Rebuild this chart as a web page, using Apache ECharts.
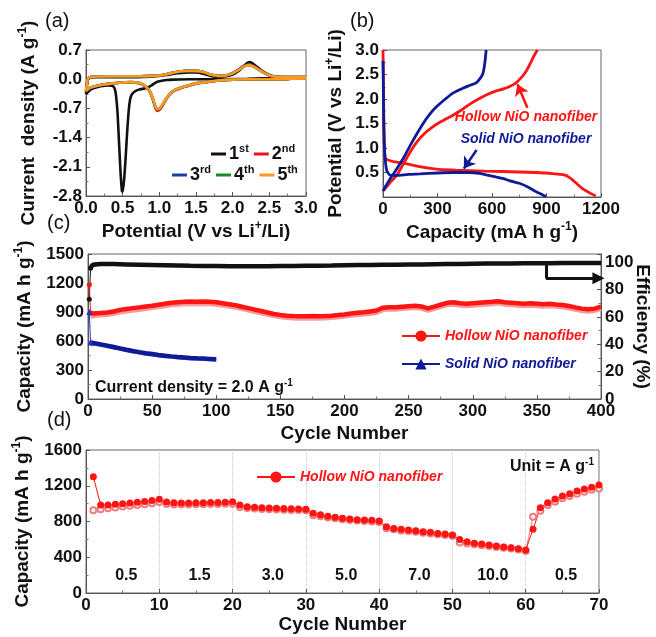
<!DOCTYPE html>
<html><head><meta charset="utf-8">
<script src="https://cdn.jsdelivr.net/npm/echarts@6/dist/echarts.min.js"></script>
<style>html,body{margin:0;padding:0;background:#fff}#c{width:656px;height:637px}</style>
</head><body><div id="c"></div>
<script>
// ---------- (a) CV curves ----------
const cvV1 = [3.0,2.6,2.2,1.8,1.4,1.2,1.1,1.0,0.95,0.9,0.85,0.8,0.72,0.66,0.62,0.6,0.58,0.56,0.54,0.52,0.5,0.49,0.47,0.45,0.43,0.41,0.39,0.36,0.3,0.2,0.1,0.05,0.0,
  0.01,0.02,0.04,0.1,0.4,0.7,0.9,1.0,1.1,1.2,1.3,1.4,1.5,1.6,1.7,1.8,1.9,2.0,2.1,2.15,2.2,2.24,2.3,2.4,2.5,2.6,2.8,3.0];
const cvI1 = [0.04,0.03,0.01,0.0,0.0,-0.01,-0.02,-0.05,-0.08,-0.14,-0.19,-0.22,-0.25,-0.3,-0.38,-0.5,-0.8,-1.3,-1.9,-2.4,-2.7,-2.68,-2.2,-1.5,-0.8,-0.4,-0.22,-0.16,-0.15,-0.17,-0.22,-0.27,-0.35,
  -0.2,-0.05,0.03,0.05,0.05,0.05,0.06,0.08,0.1,0.13,0.15,0.16,0.16,0.13,0.08,0.06,0.07,0.11,0.22,0.31,0.39,0.41,0.34,0.2,0.1,0.06,0.04,0.04];
const cvV = [3.0,2.8,2.6,2.4,2.2,2.0,1.8,1.6,1.5,1.4,1.3,1.2,1.13,1.08,1.04,1.0,0.97,0.94,0.91,0.88,0.85,0.8,0.73,0.6,0.5,0.37,0.2,0.1,0.05,0.0,
  0.01,0.02,0.04,0.1,0.4,0.7,0.9,1.0,1.1,1.2,1.3,1.4,1.5,1.6,1.7,1.8,1.9,2.0,2.1,2.15,2.22,2.3,2.4,2.5,2.6,2.8,3.0];
const cvI2 = [0.02,0.01,0.0,0.0,0.0,-0.01,-0.03,-0.08,-0.11,-0.16,-0.21,-0.28,-0.39,-0.52,-0.65,-0.74,-0.76,-0.66,-0.48,-0.34,-0.25,-0.16,-0.1,-0.08,-0.08,-0.1,-0.14,-0.18,-0.22,-0.29,
  -0.15,-0.02,0.04,0.06,0.07,0.07,0.08,0.09,0.12,0.16,0.19,0.21,0.2,0.17,0.11,0.08,0.09,0.15,0.26,0.32,0.36,0.3,0.18,0.09,0.06,0.05,0.05];
const cvI3 = [0.02,0.01,0.0,0.0,0.0,-0.01,-0.03,-0.08,-0.1,-0.15,-0.2,-0.27,-0.38,-0.51,-0.63,-0.71,-0.73,-0.63,-0.46,-0.32,-0.24,-0.15,-0.09,-0.07,-0.08,-0.1,-0.14,-0.18,-0.21,-0.28,
  -0.15,-0.02,0.04,0.06,0.07,0.07,0.08,0.09,0.12,0.16,0.19,0.2,0.2,0.17,0.11,0.08,0.09,0.14,0.25,0.31,0.35,0.29,0.18,0.09,0.06,0.05,0.05];
const cvI4 = [0.02,0.01,0.0,0.0,0.0,-0.01,-0.03,-0.08,-0.1,-0.15,-0.2,-0.27,-0.38,-0.5,-0.62,-0.71,-0.72,-0.62,-0.45,-0.32,-0.24,-0.15,-0.09,-0.07,-0.08,-0.1,-0.14,-0.18,-0.21,-0.28,
  -0.15,-0.02,0.04,0.06,0.07,0.07,0.08,0.09,0.12,0.16,0.19,0.2,0.2,0.17,0.11,0.08,0.09,0.14,0.24,0.3,0.34,0.29,0.18,0.09,0.06,0.05,0.05];
const cvI5 = [0.02,0.01,0.0,0.0,0.0,-0.01,-0.03,-0.08,-0.1,-0.15,-0.2,-0.27,-0.38,-0.5,-0.62,-0.7,-0.72,-0.62,-0.45,-0.32,-0.24,-0.15,-0.09,-0.07,-0.08,-0.1,-0.14,-0.18,-0.21,-0.28,
  -0.15,-0.02,0.04,0.06,0.07,0.07,0.08,0.09,0.12,0.16,0.19,0.2,0.2,0.17,0.11,0.08,0.09,0.14,0.24,0.3,0.34,0.29,0.18,0.09,0.06,0.05,0.05];
const cvNames = ['1st','2nd','3rd','4th','5th'];

// ---------- (b) charge/discharge ----------
const hollowDisC = [0,3,6,10,15,40,75,112,200,294,400,477,560,659,750,842,900,951,980,1006,1025,1043,1070,1098,1130,1171];
const hollowDisV = [3.0,2.2,1.2,0.85,0.78,0.74,0.71,0.69,0.62,0.57,0.55,0.54,0.53,0.52,0.51,0.5,0.49,0.47,0.46,0.44,0.4,0.35,0.26,0.17,0.1,0.02];
const hollowChgC = [5,40,75,110,150,190,230,270,310,350,385,430,480,531,580,620,659,700,732,760,787,810,824,840,851];
const hollowChgV = [0.14,0.3,0.44,0.66,0.92,1.14,1.3,1.42,1.52,1.6,1.67,1.77,1.9,2.01,2.1,2.16,2.2,2.26,2.33,2.43,2.56,2.72,2.83,2.94,3.0];
const solidDisC = [0,2,4,7,11,20,38,75,140,203,300,385,477,530,568,620,659,700,751,800,842,870,897];
const solidDisV = [2.78,2.2,1.5,1.1,0.82,0.55,0.45,0.44,0.46,0.47,0.49,0.5,0.5,0.48,0.45,0.41,0.38,0.33,0.28,0.2,0.11,0.06,0.01];
const solidChgC = [0,20,40,63,112,160,221,260,294,340,385,440,480,513,535,550,560,568];
const solidChgV = [0.12,0.25,0.38,0.5,0.79,1.12,1.5,1.7,1.84,1.99,2.12,2.22,2.28,2.33,2.42,2.52,2.72,3.0];

// ---------- (c) cycling at 2.0 A/g ----------
const cyclesHollow = [1,2,3,5,10,15,20,25,30,35,40,45,50,55,60,65,70,75,80,85,90,95,100,105,110,115,120,125,130,135,140,145,150,155,160,165,170,175,180,185,190,195,200,205,210,215,220,225,230,235,240,245,250,255,260,265,270,275,280,285,290,295,300,305,310,315,320,325,330,335,340,345,350,355,360,365,370,375,380,385,390,395,400];
const hollowCharge = [1183,890,885,885,890,895,905,922,932,940,948,957,965,975,985,995,1000,1005,1008,1005,1008,1005,1000,990,980,970,955,940,925,910,895,880,870,862,858,855,855,858,855,858,862,868,875,885,892,898,905,915,945,950,948,955,960,965,958,938,955,975,995,1000,990,985,990,995,1000,1005,1012,1000,995,990,985,990,985,980,985,978,972,962,948,935,928,935,955];
const hollowDischarge = [null,850,855,858,865,870,878,895,905,913,921,930,940,950,960,970,975,980,983,980,983,980,975,965,955,945,930,915,900,885,870,855,845,837,833,830,830,833,830,833,837,843,850,860,867,873,880,890,920,925,923,930,935,940,933,913,930,950,970,975,965,960,965,970,975,980,987,975,970,965,960,965,960,955,960,953,947,937,923,910,903,910,930];
const cyclesEff = [1,2,3,5,10,20,30,40,50,60,70,80,90,100,110,120,130,140,150,160,170,180,190,200,210,220,230,240,250,260,270,280,290,300,310,320,330,340,350,360,370,380,390,400];
const efficiency = [73,95.5,97.5,98.4,98.7,98.6,98.4,98.2,98.0,97.8,97.6,97.4,97.3,97.2,97.1,97.0,97.0,97.1,97.2,97.3,97.4,97.5,97.6,97.8,97.9,98.0,98.1,98.2,98.3,98.4,98.5,98.6,98.7,98.9,99.0,99.0,99.1,99.2,99.3,99.3,99.4,99.4,99.5,99.5];
const cyclesSolid = [1,2,3,5,10,15,20,25,30,35,40,45,50,55,60,65,70,75,80,85,90,95,100];
const solidCharge = [900,585,582,578,565,552,538,524,510,497,485,474,465,456,448,441,435,430,425,421,418,415,412];
const solidDischarge = [null,565,572,570,558,546,533,519,505,492,480,469,460,451,443,436,430,425,420,416,413,410,407];

// ---------- (d) rate capability ----------
const rateCharge = [1301,984,985,992,1000,1008,1015,1025,1035,1048,1018,1010,1008,1008,1010,1010,1012,1012,1015,1020,985,965,960,955,950,948,945,942,940,938,891,876,858,847,836,828,820,817,813,806,742,723,712,705,697,686,679,667,660,649,600,574,556,548,537,525,515,505,495,480,712,954,1010,1051,1085,1110,1140,1163,1182,1208];
const rateDischarge = [925,936,947,958,968,977,984,992,1003,1018,995,990,990,990,992,993,995,995,998,1000,962,950,945,940,937,935,932,930,928,925,870,860,845,835,825,817,810,805,800,795,725,712,700,693,685,675,667,657,650,640,565,555,545,535,527,516,507,497,488,470,853,920,985,1021,1059,1085,1110,1133,1155,1170];
const rateLabels = ['0.5','1.5','3.0','5.0','7.0','10.0','0.5'];
const rateStartCycles = [1,11,21,31,41,51,61];

// ---------- build ----------
const FONT = '"Liberation Sans", Arial, sans-serif';
const pairs = (xs, ys) => xs.map((x, i) => [x, ys[i]]);
const rateCycles = rateCharge.map((_, i) => i + 1);

function rich(size) {
  const s = Math.round(size * 0.62);
  return {
    n: {fontFamily: FONT, fontSize: size, fontWeight: 'bold', color: '#111', lineHeight: size + 4},
    s: {fontFamily: FONT, fontSize: s, fontWeight: 'bold', color: '#111', verticalAlign: 'top', lineHeight: s}
  };
}
function axis(o) {
  return {
    type: 'value', gridIndex: o.grid, min: o.min, max: o.max, interval: o.interval,
    position: o.position,
    name: o.name, nameLocation: 'middle', nameGap: o.nameGap, nameRotate: o.nameRotate, nameMoveOverlap: false,
    nameTextStyle: {fontFamily: FONT, fontSize: 19, fontWeight: 'bold', color: '#111', rich: rich(19)},
    axisLine: {show: true, onZero: false, lineStyle: {color: '#555', width: 1}},
    axisTick: {show: true, inside: true, length: 4, lineStyle: {color: '#555'}},
    minorTick: {show: true, splitNumber: 2, length: 2.5, lineStyle: {color: '#777'}},
    splitLine: o.splitLine || {show: false},
    axisLabel: {fontFamily: FONT, fontSize: 17, fontWeight: 'bold', color: '#111', margin: o.margin || 4,
      formatter: o.fmt || (v => String(v)), showMinLabel: true, showMaxLabel: true, hideOverlap: false}
  };
}
const f1 = v => v.toFixed(1);

const cvColors = ['#111111', '#e8141b', '#1b3fa8', '#178c1e', '#ff9722'];
const cvData = [pairs(cvV1, cvI1), pairs(cvV, cvI2), pairs(cvV, cvI3), pairs(cvV, cvI4), pairs(cvV, cvI5)];

const RED = '#ff1414', LRED = '#f59a9a', NAVY = '#0f1a96', LNAVY = '#6d77c4';

const series = [];
cvNames.forEach((n, i) => series.push({
  type: 'line', name: n, xAxisIndex: 0, yAxisIndex: 0, data: cvData[i], symbol: 'none',
  smooth: 0.15, lineStyle: {color: cvColors[i], width: 2.6}, itemStyle: {color: cvColors[i]}
}));

series.push({type: 'line', name: 'hollowDis', xAxisIndex: 1, yAxisIndex: 1, data: pairs(hollowDisC, hollowDisV),
  symbol: 'none', smooth: 0.25, lineStyle: {color: RED, width: 2.8}});
series.push({type: 'line', name: 'hollowChg', xAxisIndex: 1, yAxisIndex: 1, data: pairs(hollowChgC, hollowChgV),
  symbol: 'none', smooth: 0.25, lineStyle: {color: RED, width: 2.8},
  markLine: {silent: true, symbol: ['none', 'arrow'], symbolSize: 11, label: {show: false},
    lineStyle: {color: RED, width: 2.5, type: 'solid'}, data: [[{coord: [795, 1.82]}, {coord: [740, 2.3]}]]}});
series.push({type: 'line', name: 'solidDis', xAxisIndex: 1, yAxisIndex: 1, data: pairs(solidDisC, solidDisV),
  symbol: 'none', smooth: 0.25, lineStyle: {color: NAVY, width: 2.8},
  markLine: {silent: true, symbol: ['none', 'arrow'], symbolSize: 11, label: {show: false},
    lineStyle: {color: NAVY, width: 2.5, type: 'solid'}, data: [[{coord: [515, 0.96]}, {coord: [445, 0.58]}]]}});
series.push({type: 'line', name: 'solidChg', xAxisIndex: 1, yAxisIndex: 1, data: pairs(solidChgC, solidChgV),
  symbol: 'none', smooth: 0.25, lineStyle: {color: NAVY, width: 2.8}});

// (c)
series.push({type: 'line', name: 'effFirst', xAxisIndex: 2, yAxisIndex: 3, data: pairs(cyclesEff.slice(0, 2), efficiency.slice(0, 2)),
  symbol: 'circle', symbolSize: 5, lineStyle: {color: '#111', width: 1}, itemStyle: {color: '#111'}});
series.push({type: 'line', name: 'Efficiency', xAxisIndex: 2, yAxisIndex: 3, data: pairs(cyclesEff.slice(1), efficiency.slice(1)),
  symbol: 'none', lineStyle: {color: '#111', width: 4.5},
  markLine: {silent: true, symbol: 'none', label: {show: false}, lineStyle: {color: '#111', width: 3, type: 'solid'},
    data: [[{coord: [357, 99.5]}, {coord: [357, 88.2]}],
           [{coord: [357, 88.2], symbol: 'none'}, {coord: [398, 88.2], symbol: 'triangle', symbolSize: [12, 12]}]]}});
series.push({type: 'line', name: 'hollowFirst', xAxisIndex: 2, yAxisIndex: 2, data: pairs(cyclesHollow.slice(0, 2), hollowCharge.slice(0, 2)),
  symbol: 'circle', symbolSize: 5, lineStyle: {color: RED, width: 1}, itemStyle: {color: RED}});
series.push({type: 'line', name: 'hollowDischargeC', xAxisIndex: 2, yAxisIndex: 2, data: pairs(cyclesHollow.slice(1), hollowDischarge.slice(1)),
  symbol: 'none', lineStyle: {color: LRED, width: 4}});
series.push({type: 'line', name: 'Hollow NiO nanofiber', xAxisIndex: 2, yAxisIndex: 2, data: pairs(cyclesHollow.slice(1), hollowCharge.slice(1)),
  symbol: 'circle', showSymbol: false, symbolSize: 12, lineStyle: {color: RED, width: 4.5}, itemStyle: {color: RED}});
series.push({type: 'line', name: 'solidFirst', xAxisIndex: 2, yAxisIndex: 2, data: pairs(cyclesSolid.slice(0, 2), solidCharge.slice(0, 2)),
  symbol: 'triangle', symbolSize: 6, lineStyle: {color: '#2233cc', width: 1}, itemStyle: {color: '#2233cc'}});
series.push({type: 'line', name: 'solidDischargeC', xAxisIndex: 2, yAxisIndex: 2, data: pairs(cyclesSolid.slice(1), solidDischarge.slice(1)),
  symbol: 'none', lineStyle: {color: LNAVY, width: 4}});
series.push({type: 'line', name: 'Solid NiO nanofiber', xAxisIndex: 2, yAxisIndex: 2, data: pairs(cyclesSolid.slice(1), solidCharge.slice(1)),
  symbol: 'triangle', showSymbol: false, symbolSize: 12, lineStyle: {color: NAVY, width: 4.5}, itemStyle: {color: NAVY}});

// (d)
series.push({type: 'line', name: 'rateOpen', xAxisIndex: 3, yAxisIndex: 4, data: pairs(rateCycles, rateDischarge),
  symbol: 'emptyCircle', symbolSize: 6, lineStyle: {color: '#f27c7c', width: 1}, itemStyle: {color: '#f27c7c', borderWidth: 1}});
series.push({type: 'line', name: 'Hollow NiO nanofiber ', xAxisIndex: 3, yAxisIndex: 4, data: pairs(rateCycles, rateCharge),
  symbol: 'circle', symbolSize: 7, lineStyle: {color: RED, width: 1}, itemStyle: {color: RED}});

const gridStyle = {show: true, borderColor: '#666', borderWidth: 1, backgroundColor: 'transparent', outerBoundsMode: 'none', containLabel: false};
const legRich = {
  n: {fontFamily: FONT, fontSize: 18, fontWeight: 'bold', color: '#111', lineHeight: 22},
  s: {fontFamily: FONT, fontSize: 11, fontWeight: 'bold', color: '#111', verticalAlign: 'top', lineHeight: 11}
};
const cvLegend = (names, left, top) => ({
  data: names, left, top, orient: 'horizontal', icon: 'rect', itemWidth: 15, itemHeight: 3, itemGap: 5,
  padding: 0, selectedMode: false,
  formatter: n => '{n|' + n[0] + '}{s|' + n.slice(1) + '}', textStyle: {rich: legRich, padding: [0, 0, 0, -2]}
});
const legText = c => ({color: c, fontFamily: FONT, fontSize: 14, fontWeight: 'bold', fontStyle: 'italic'});
const supRich = {n: {fontFamily: FONT, fontSize: 16, fontWeight: 'bold', fill: '#111', lineHeight: 20},
  s: {fontFamily: FONT, fontSize: 10, fontWeight: 'bold', fill: '#111', verticalAlign: 'top', lineHeight: 10}};

const option = {
  animation: false,
  backgroundColor: '#fff',
  grid: [
    Object.assign({left: 86, top: 50, width: 220, height: 146}, gridStyle),
    Object.assign({left: 383, top: 50, width: 218, height: 147}, gridStyle),
    Object.assign({left: 88, top: 254, width: 513, height: 145}, gridStyle),
    Object.assign({left: 86, top: 450, width: 513, height: 143}, gridStyle)
  ],
  xAxis: [
    axis({grid: 0, min: 0, max: 3, interval: 0.5, fmt: f1, name: '{n|Potential (V vs Li}{s|+}{n|/Li)}', nameGap: 24}),
    axis({grid: 1, min: 0, max: 1200, interval: 300, name: '{n|Capacity (mA h g}{s|-1}{n|)}', nameGap: 24}),
    axis({grid: 2, min: 0, max: 400, interval: 50, name: 'Cycle Number', nameGap: 25}),
    axis({grid: 3, min: 0, max: 70, interval: 10, name: 'Cycle Number', nameGap: 22,
      splitLine: {show: true, lineStyle: {color: '#c8c8c8', type: 'dotted', width: 1}}})
  ],
  yAxis: [
    axis({grid: 0, min: -2.8, max: 0.7, interval: 0.7, fmt: f1, name: '{n|Current  density (A g}{s|-1}{n|)}', nameGap: 46}),
    axis({grid: 1, min: 0, max: 3, interval: 0.5, fmt: v => v === 0 ? '' : v.toFixed(1), name: '{n|Potential (V vs Li}{s|+}{n|/Li)}', nameGap: 36}),
    axis({grid: 2, min: 0, max: 1500, interval: 300, name: '{n|Capacity (mA h g}{s|-1}{n|)}', nameGap: 52}),
    axis({grid: 2, min: 0, max: 106, interval: 20, position: 'right', fmt: v => v > 100 ? '' : String(v),
      name: 'Efficiency (%)', nameGap: 32, nameRotate: -90}),
    axis({grid: 3, min: 0, max: 1600, interval: 400, name: '{n|Capacity (mA h g}{s|-1}{n|)}', nameGap: 52})
  ],
  legend: [
    cvLegend(['1st', '2nd'], 211, 143),
    cvLegend(['3rd', '4th', '5th'], 172, 164),
    {data: [{name: 'Hollow NiO nanofiber', textStyle: legText(RED)}, {name: 'Solid NiO nanofiber', textStyle: legText(NAVY)}],
      left: 401, top: 329, orient: 'vertical', itemWidth: 38, itemHeight: 14, itemGap: 14, padding: 0, selectedMode: false},
    {data: [{name: 'Hollow NiO nanofiber ', textStyle: legText(RED)}],
      left: 256, top: 470, orient: 'horizontal', itemWidth: 38, itemHeight: 14, padding: 0, selectedMode: false}
  ],
  graphic: [
    {id: 'la', type: 'text', x: 45, y: 21, style: {text: '(a)', font: '20px ' + FONT, fill: '#111', textVerticalAlign: 'middle'}},
    {id: 'lb', type: 'text', x: 350, y: 21, style: {text: '(b)', font: '20px ' + FONT, fill: '#111', textVerticalAlign: 'middle'}},
    {id: 'lc', type: 'text', x: 47, y: 223, style: {text: '(c)', font: '20px ' + FONT, fill: '#111', textVerticalAlign: 'middle'}},
    {id: 'ld', type: 'text', x: 47, y: 420, style: {text: '(d)', font: '20px ' + FONT, fill: '#111', textVerticalAlign: 'middle'}},
    {id: 'ah', type: 'text', x: 526, y: 117, style: {text: 'Hollow NiO nanofiber', font: 'italic bold 14px ' + FONT, fill: RED, textAlign: 'center', textVerticalAlign: 'middle'}},
    {id: 'as', type: 'text', x: 526, y: 139, style: {text: 'Solid NiO nanofiber', font: 'italic bold 14px ' + FONT, fill: NAVY, textAlign: 'center', textVerticalAlign: 'middle'}},
    {id: 'cd', type: 'text', x: 95, y: 388, style: {text: '{n|Current density = 2.0 A g}{s|-1}', textVerticalAlign: 'middle', rich: supRich}},
    {id: 'un', type: 'text', x: 510, y: 467, style: {text: '{n|Unit = A g}{s|-1}', textVerticalAlign: 'middle', rich: supRich}}
  ],
  series
};
const chart = echarts.init(document.getElementById('c'), null, {renderer: 'canvas'});
chart.setOption(option);

// rate labels placed at the middle of each 10-cycle step, through the (d) axes
const rateGraphics = rateStartCycles.map((s, i) => {
  const p = chart.convertToPixel({xAxisIndex: 3, yAxisIndex: 4}, [s + 4.5, 200]);
  return {id: 'rate' + i, type: 'text', x: p[0], y: p[1],
    style: {text: rateLabels[i], font: 'bold 16px ' + FONT, fill: '#111', textAlign: 'center', textVerticalAlign: 'middle'}};
});
chart.setOption({graphic: rateGraphics});
</script></body></html>
